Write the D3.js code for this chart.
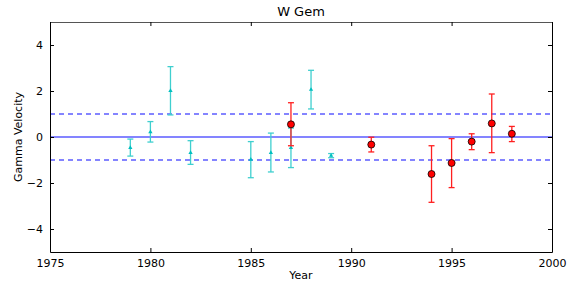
<!DOCTYPE html>
<html>
<head>
<meta charset="utf-8">
<script src="https://cdn.jsdelivr.net/npm/d3@7"></script>
<style>
  body { margin: 0; background: #fff; }
  text { font-family: "DejaVu Sans", sans-serif; }
</style>
</head>
<body>
<div id="chart"></div>
<script>
// Cyan series (earlier observations)
const cyanYears = [1979, 1980, 1981, 1982, 1985, 1986, 1987, 1988, 1989];
const cyanValues = [-0.47, 0.22, 2.01, -0.68, -0.98, -0.68, -0.47, 2.06, -0.81];
const cyanLow = [-0.83, -0.22, 0.96, -1.19, -1.77, -1.52, -1.33, 1.22, -0.9];
const cyanHigh = [-0.09, 0.67, 3.06, -0.16, -0.2, 0.17, 0.39, 2.9, -0.72];

// Red series (later observations)
const redYears = [1987, 1991, 1994, 1995, 1996, 1997, 1998];
const redValues = [0.55, -0.33, -1.61, -1.13, -0.2, 0.59, 0.14];
const redLow = [-0.38, -0.65, -2.84, -2.2, -0.55, -0.68, -0.2];
const redHigh = [1.49, -0.01, -0.38, -0.07, 0.14, 1.87, 0.46];

const xTicks = [1975, 1980, 1985, 1990, 1995, 2000];
const yTicks = [-4, -2, 0, 2, 4];
const refLines = [-1, 0, 1];

const svgWidth = 582;
const svgHeight = 287;
const margin = { top: 22, right: 30, bottom: 35, left: 50 };
const chartWidth = svgWidth - margin.left - margin.right;
const chartHeight = svgHeight - margin.top - margin.bottom;

const svg = d3.select("#chart")
  .append("svg")
  .attr("width", svgWidth)
  .attr("height", svgHeight);

const chart = svg.append("g")
  .attr("transform", `translate(${margin.left}, ${margin.top})`);

const xScale = d3.scaleLinear().domain([1975, 2000]).range([0, chartWidth]);
const yScale = d3.scaleLinear().domain([-5, 5]).range([chartHeight, 0]);

// Reference lines
chart.selectAll(".ref")
  .data(refLines)
  .enter().append("line")
  .attr("x1", 0)
  .attr("x2", chartWidth)
  .attr("y1", d => yScale(d))
  .attr("y2", d => yScale(d))
  .attr("stroke", "#0a0aff")
  .attr("stroke-width", 1.2)
  .attr("stroke-dasharray", d => d === 0 ? null : "5,4");

// Error bars helper
function drawSeries(years, values, low, high, color) {
  const rows = years.map((y, i) => ({ year: y, v: values[i], lo: low[i], hi: high[i] }));
  const g = chart.append("g");
  g.selectAll(".bar")
    .data(rows)
    .enter().append("line")
    .attr("x1", d => xScale(d.year))
    .attr("x2", d => xScale(d.year))
    .attr("y1", d => yScale(d.lo))
    .attr("y2", d => yScale(d.hi))
    .attr("stroke", color)
    .attr("stroke-width", 1.3);
  ["lo", "hi"].forEach(k => {
    g.selectAll(".cap-" + k)
      .data(rows)
      .enter().append("line")
      .attr("x1", d => xScale(d.year) - 3)
      .attr("x2", d => xScale(d.year) + 3)
      .attr("y1", d => yScale(d[k]))
      .attr("y2", d => yScale(d[k]))
      .attr("stroke", color)
      .attr("stroke-width", 1.3);
  });
  return { g, rows };
}

const cyan = drawSeries(cyanYears, cyanValues, cyanLow, cyanHigh, "#3fcfcf");
cyan.g.selectAll(".mark")
  .data(cyan.rows)
  .enter().append("path")
  .attr("transform", d => `translate(${xScale(d.year)}, ${yScale(d.v)})`)
  .attr("d", d3.symbol(d3.symbolTriangle, 8)())
  .attr("fill", "#00bfbf");

const red = drawSeries(redYears, redValues, redLow, redHigh, "#ff2020");
red.g.selectAll(".mark")
  .data(red.rows)
  .enter().append("circle")
  .attr("cx", d => xScale(d.year))
  .attr("cy", d => yScale(d.v))
  .attr("r", 3.5)
  .attr("fill", "#ff0000")
  .attr("stroke", "#000")
  .attr("stroke-width", 0.8);

// Axes with inward ticks
const xAxis = d3.axisBottom(xScale).tickValues(xTicks).tickFormat(d3.format("d")).tickSizeInner(-4).tickSizeOuter(0).tickPadding(7);
const yAxis = d3.axisLeft(yScale).tickValues(yTicks).tickFormat(d => d < 0 ? "\u2212" + Math.abs(d) : d).tickSizeInner(-4).tickSizeOuter(0).tickPadding(7);

const gx = chart.append("g")
  .attr("transform", `translate(0, ${chartHeight})`)
  .call(xAxis);
const gy = chart.append("g").call(yAxis);

const gxTop = chart.append("g")
  .call(d3.axisTop(xScale).tickValues(xTicks).tickFormat("").tickSizeInner(-4).tickSizeOuter(0));
const gyRight = chart.append("g")
  .attr("transform", `translate(${chartWidth}, 0)`)
  .call(d3.axisRight(yScale).tickValues(yTicks).tickFormat("").tickSizeInner(-4).tickSizeOuter(0));

[gx, gy, gxTop, gyRight].forEach(g => {
  g.selectAll("text").attr("font-size", 11).attr("fill", "#000").style("font-family", "DejaVu Sans");
  g.select(".domain").attr("stroke", "#000");
  g.selectAll(".tick line").attr("stroke", "#000");
});
gxTop.select(".domain").attr("stroke", "#555");

// Labels
svg.append("text")
  .attr("x", margin.left + chartWidth / 2)
  .attr("y", 16)
  .attr("text-anchor", "middle")
  .attr("font-size", 13)
  .text("W Gem");

svg.append("text")
  .attr("x", margin.left + chartWidth / 2)
  .attr("y", 279)
  .attr("text-anchor", "middle")
  .attr("font-size", 11)
  .text("Year");

svg.append("text")
  .attr("transform", `translate(22, ${margin.top + chartHeight / 2}) rotate(-90)`)
  .attr("text-anchor", "middle")
  .attr("font-size", 11)
  .text("Gamma Velocity");
</script>
</body>
</html>
